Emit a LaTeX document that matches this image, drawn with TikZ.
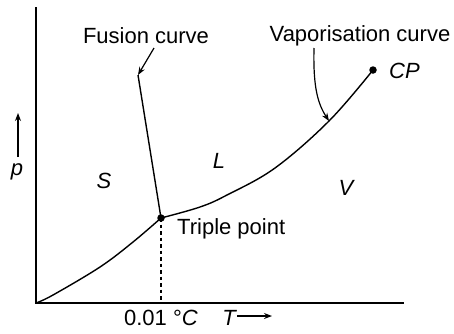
\documentclass[tikz,border=0pt]{standalone}
\usepackage{fontspec}
\setmainfont{Liberation Sans}
\usetikzlibrary{arrows.meta}
\begin{document}
\begin{tikzpicture}[x=1pt,y=-1pt,
  lbl/.style={inner sep=0pt,font=\fontsize{22}{25}\selectfont},
  ilbl/.style={lbl,font=\fontsize{22}{25}\selectfont\itshape},
  axis/.style={line width=1.8pt},
  curve/.style={line width=1.4pt},
  pointer/.style={line width=1.2pt,-{Stealth[length=8pt,width=6pt]}},
  dot/.style={circle,fill=black,inner sep=0pt,minimum size=7.5pt}]
\useasboundingbox (0,0) rectangle (454,333);
% axes
\coordinate (O) at (36,303);
\coordinate (ytop) at (36,7);
\coordinate (xend) at (404,303);
\draw[axis] (ytop) -- (O) -- (xend);
% points
\node[dot] (TP) at (161,218) {};
\node[dot] (CP) at (373,70) {};
\coordinate (FT) at (138,75);
\coordinate (TB) at (161,303);
% curves
\draw[curve] plot[smooth,tension=0.6] coordinates {(36,303) (53,295) (100,267) (133,242) (161,218)};
\draw[curve] (TP.center) -- (FT);
\draw[curve] plot[smooth,tension=0.6] coordinates {(161,218) (200,207) (227,195) (275,168) (329,121) (373,70)};
\draw[line width=1.2pt,dash pattern=on 3.5pt off 3pt] (TP.center) -- (TB);
% labels
\node[lbl] (fus) at (146,36) {Fusion curve};
\node[lbl] (vap) at (360,36) {Vaporisation curve};
\coordinate (fusS) at (154,48);
\coordinate (vapS) at (314,48);
\coordinate (vapE) at (329,121);
\draw[pointer] (fusS) -- (FT);
\draw[pointer] (vapS) .. controls (313,88) and (318,104) .. (vapE);
\node[ilbl,anchor=west] (cpl) at (389,71) {CP};
\node[lbl,anchor=west] (tpl) at (177,229) {Triple point};
\node[ilbl] (S) at (104,181) {S};
\node[ilbl] (L) at (219,161) {L};
\node[ilbl] (V) at (346,188) {V};
\node[ilbl] (p) at (17,172) {p};
\coordinate (pa) at (18,157);
\coordinate (pb) at (18,113);
\draw[pointer] (pa) -- (pb);
\node[lbl] (temp) at (161,318) {0.01 °\textit{C}};
\node[ilbl] (T) at (229,318) {T};
\coordinate (ta) at (237,316);
\coordinate (tb) at (272,316);
\draw[pointer] (ta) -- (tb);
\end{tikzpicture}
\end{document}
